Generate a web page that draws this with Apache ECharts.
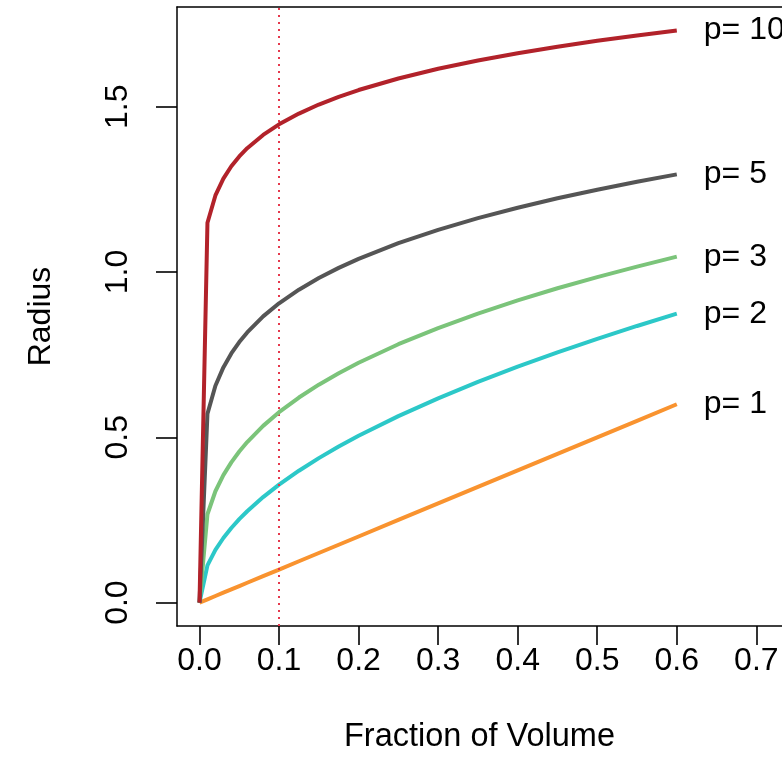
<!DOCTYPE html>
<html>
<head>
<meta charset="utf-8">
<script src="https://cdn.jsdelivr.net/npm/echarts@6/dist/echarts.min.js"></script>
<style>
html,body{margin:0;padding:0;background:#fff;}
#chart{width:782px;height:779px;}
</style>
</head>
<body>
<div id="chart"></div>
<script>
// Fraction of volume (x values)
const fraction = [0, 0.01, 0.02, 0.03, 0.04, 0.05, 0.06, 0.08, 0.1, 0.125, 0.15, 0.175, 0.2, 0.25, 0.3, 0.35, 0.4, 0.45, 0.5, 0.55, 0.6];
// Radius for each dimension p
const radiusP1  = [0, 0.01, 0.02, 0.03, 0.04, 0.05, 0.06, 0.08, 0.1, 0.125, 0.15, 0.175, 0.2, 0.25, 0.3, 0.35, 0.4, 0.45, 0.5, 0.55, 0.6];
const radiusP2  = [0, 0.1128, 0.1596, 0.1954, 0.2257, 0.2523, 0.2764, 0.3192, 0.3568, 0.3989, 0.4370, 0.4720, 0.5046, 0.5642, 0.6180, 0.6676, 0.7137, 0.7569, 0.7979, 0.8368, 0.8740];
const radiusP3  = [0, 0.2673, 0.3368, 0.3855, 0.4243, 0.4570, 0.4857, 0.5346, 0.5759, 0.6203, 0.6592, 0.6940, 0.7256, 0.7816, 0.8305, 0.8744, 0.9142, 0.9508, 0.9847, 1.0165, 1.0464];
const radiusP5  = [0, 0.5712, 0.6561, 0.7115, 0.7537, 0.7881, 0.8173, 0.8657, 0.9053, 0.9466, 0.9817, 1.0125, 1.0399, 1.0873, 1.1277, 1.1630, 1.1945, 1.2230, 1.2490, 1.2730, 1.2954];
const radiusP10 = [0, 1.1491, 1.2316, 1.2826, 1.3200, 1.3498, 1.3746, 1.4147, 1.4467, 1.4793, 1.5066, 1.5299, 1.5505, 1.5855, 1.6147, 1.6398, 1.6619, 1.6816, 1.6994, 1.7157, 1.7307];
const seriesNames = ['p= 1', 'p= 2', 'p= 3', 'p= 5', 'p= 10'];
const xTicks = [0, 0.1, 0.2, 0.3, 0.4, 0.5, 0.6, 0.7];
const yTicks = [0, 0.5, 1.0, 1.5];
const refLineX = 0.1;

const colors = ['#F9932F', '#2CC8C8', '#7BC47A', '#555555', '#B2222A'];
const allY = [radiusP1, radiusP2, radiusP3, radiusP5, radiusP10];
const FONT = 'Liberation Sans, Arial, sans-serif';
const FS = 32;
const XMIN = -0.02828, XMAX = 0.73225;

const series = allY.map((ys, i) => ({
  name: seriesNames[i],
  type: 'line',
  showSymbol: false,
  silent: true,
  data: fraction.map((x, j) => [x, ys[j]]),
  lineStyle: { color: colors[i], width: 4 },
  itemStyle: { color: colors[i] },
  z: 3 + i,
  endLabel: {
    show: true,
    formatter: seriesNames[i],
    color: '#000',
    fontFamily: FONT,
    fontSize: FS,
    distance: 27
  }
}));
series[0].markLine = {
  silent: true,
  symbol: 'none',
  label: { show: false },
  lineStyle: { color: '#E5384C', width: 2, type: [2, 5] },
  data: [{ xAxis: refLineX }]
};

const chart = echarts.init(document.getElementById('chart'), null, { renderer: 'canvas' });
chart.setOption({
  animation: false,
  backgroundColor: '#fff',
  grid: { left: 177, top: 7, right: 0, bottom: 153, show: false },
  xAxis: [{
    type: 'value',
    position: 'bottom',
    min: XMIN, max: XMAX,
    name: 'Fraction of Volume',
    nameLocation: 'middle',
    nameGap: 95,
    nameTextStyle: { color: '#000', fontFamily: FONT, fontSize: 32.5 },
    splitLine: { show: false },
    axisLine: { show: true, onZero: false, lineStyle: { color: '#000', width: 1.5 } },
    axisTick: { show: true, inside: false, length: 19, customValues: xTicks, lineStyle: { color: '#000', width: 1.6 } },
    axisLabel: {
      customValues: xTicks, margin: 19,
      color: '#000', fontFamily: FONT, fontSize: FS,
      formatter: v => v.toFixed(1)
    }
  }, {
    type: 'value',
    position: 'top',
    min: XMIN, max: XMAX,
    splitLine: { show: false },
    axisLine: { show: true, onZero: false, lineStyle: { color: '#000', width: 1.5 } },
    axisTick: { show: false },
    axisLabel: { show: false }
  }],
  yAxis: {
    type: 'value',
    min: -0.0708, max: 1.8017,
    name: 'Radius',
    nameLocation: 'middle',
    nameRotate: 90,
    nameGap: 120,
    nameTextStyle: { color: '#000', fontFamily: FONT, fontSize: FS },
    splitLine: { show: false },
    axisLine: { show: true, onZero: false, lineStyle: { color: '#000', width: 1.5 } },
    axisTick: { show: true, inside: false, length: 21, customValues: yTicks, lineStyle: { color: '#000', width: 1.6 } },
    axisLabel: {
      customValues: yTicks, margin: 43, rotate: 90,
      color: '#000', fontFamily: FONT, fontSize: FS,
      formatter: v => v.toFixed(1)
    }
  },
  series: series
});
</script>
</body>
</html>
